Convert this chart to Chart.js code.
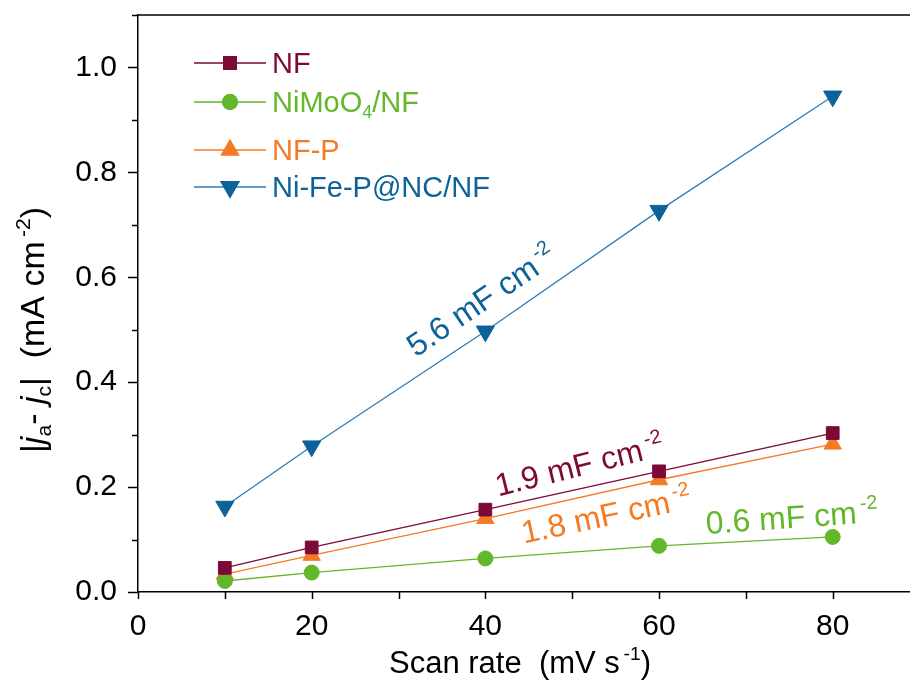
<!DOCTYPE html>
<html>
<head>
<meta charset="utf-8">
<script src="https://cdn.jsdelivr.net/npm/chart.js@4.4.0/dist/chart.umd.min.js"></script>
<style>
  html, body { margin: 0; padding: 0; background: #fff; }
  canvas { display: block; }
</style>
</head>
<body>
<canvas id="chart" width="910" height="680"></canvas>
<script>
// data
const scanRate = [10, 20, 40, 60, 80];
const nf = [0.046, 0.085, 0.157, 0.230, 0.303];
const nimoo4 = [0.021, 0.037, 0.064, 0.088, 0.105];
const nfp = [0.034, 0.070, 0.140, 0.214, 0.282];
const nifep = [0.163, 0.278, 0.497, 0.727, 0.945];

const xTicks = [0, 20, 40, 60, 80];
const yTicks = [0.0, 0.2, 0.4, 0.6, 0.8, 1.0];

const FONT = '"Liberation Sans", Arial, sans-serif';
const C_NF = '#7d0a36';
const C_NIMO = '#62b72a';
const C_NFP = '#f47a24';
const C_NIFE = '#0d6399';
const C_NIFE_LINE = '#2f7db6';

// series definition (legend + datasets)
const series = [
    { label: 'NF', parts: [{ t: 'NF' }], data: nf, color: C_NF, line: C_NF, style: 'rect', r: 9, rot: 0 },
    { label: 'NiMoO4/NF', parts: [{ t: 'NiMoO' }, { t: '4', sub: true }, { t: '/NF' }], data: nimoo4, color: C_NIMO, line: C_NIMO, style: 'circle', r: 7.5, rot: 0 },
    { label: 'NF-P', parts: [{ t: 'NF-P' }], data: nfp, color: C_NFP, line: C_NFP, style: 'triangle', r: 10, rot: 0 },
    { label: 'Ni-Fe-P@NC/NF', parts: [{ t: 'Ni-Fe-P@NC/NF' }], data: nifep, color: C_NIFE, line: C_NIFE_LINE, style: 'triangle', r: 10.5, rot: 180 }
];

// slope labels, positioned in data units
const notes = [
    { x: 39.5, y: 0.557, rot: -34, color: C_NIFE, parts: [{ t: '5.6 mF cm' }, { t: '-2', sup: true }] },
    { x: 50.8, y: 0.243, rot: -14, color: C_NF, parts: [{ t: '1.9 mF cm' }, { t: '-2', sup: true }] },
    { x: 53.9, y: 0.148, rot: -12, color: C_NFP, parts: [{ t: '1.8 mF cm' }, { t: '-2', sup: true }] },
    { x: 75.3, y: 0.144, rot: -4, color: C_NIMO, parts: [{ t: '0.6 mF cm' }, { t: '-2', sup: true }] }
];

const xTitle = [{ t: 'Scan rate  (mV s' }, { t: '-1', sup: true }, { t: ')' }];
const yTitle = [{ t: '|' }, { t: 'j', it: true }, { t: 'a', sub: true }, { t: '- ' }, { t: 'j', it: true }, { t: 'c', sub: true }, { t: '|  (mA cm' }, { t: '-2', sup: true }, { t: ')' }];

function partFont(p, size) {
    const s = (p.sub || p.sup) ? size * 0.62 : size;
    return (p.it ? 'italic ' : '') + s + 'px ' + FONT;
}

function partWidth(ctx, p, size) {
    ctx.font = partFont(p, size);
    return ctx.measureText(p.t).width + (p.sup ? size * 0.12 : 0);
}

// draws text with sub/superscripts, centred at (x, y), rotated by deg
function drawRich(ctx, parts, x, y, size, color, deg, align) {
    ctx.save();
    ctx.translate(x, y);
    ctx.rotate(deg * Math.PI / 180);
    ctx.fillStyle = color;
    ctx.textBaseline = 'alphabetic';
    ctx.textAlign = 'left';
    let w = 0;
    parts.forEach(p => { w += partWidth(ctx, p, size); });
    let cx = align === 'left' ? 0 : -w / 2;
    const base = size * 0.36;
    parts.forEach(p => {
        ctx.font = partFont(p, size);
        let dy = 0;
        if (p.sup) { dy = -size * 0.42; cx += size * 0.12; }
        if (p.sub) dy = size * 0.2;
        ctx.fillText(p.t, cx, base + dy);
        cx += ctx.measureText(p.t).width;
    });
    ctx.restore();
}

const decorPlugin = {
    id: 'decor',
    afterDraw(chart) {
        const ctx = chart.ctx;
        const xs = chart.scales.x, ys = chart.scales.y;
        const area = chart.chartArea;
        ctx.save();
        ctx.strokeStyle = '#000';
        ctx.lineWidth = 1.5;
        // top frame line
        ctx.beginPath();
        ctx.moveTo(area.left - 1, area.top);
        ctx.lineTo(area.right, area.top);
        ctx.stroke();
        // y ticks: major and minor
        for (let v = 0; v <= 1.1001; v += 0.1) {
            const py = Math.round(ys.getPixelForValue(v)) + 0.5;
            const major = Math.round(v * 10) % 2 === 0;
            ctx.beginPath();
            ctx.moveTo(area.left, py);
            ctx.lineTo(area.left - (major ? 10 : 6), py);
            ctx.stroke();
        }
        // x ticks
        for (let v = 0; v <= 80; v += 10) {
            const px = Math.round(xs.getPixelForValue(v)) + 0.5;
            ctx.beginPath();
            ctx.moveTo(px, area.bottom);
            ctx.lineTo(px, area.bottom + 7);
            ctx.stroke();
        }
        ctx.restore();

        // legend
        const rows = [63, 102, 150, 187];
        series.forEach((s, i) => {
            const y = rows[i];
            ctx.save();
            ctx.strokeStyle = s.line;
            ctx.lineWidth = 1.3;
            ctx.beginPath();
            ctx.moveTo(194, y);
            ctx.lineTo(266, y);
            ctx.stroke();
            ctx.fillStyle = s.color;
            ctx.strokeStyle = s.color;
            Chart.helpers.drawPoint(ctx, { pointStyle: s.style, rotation: s.rot, radius: s.r, borderWidth: 1 }, 230, y);
            ctx.restore();
            drawRich(ctx, s.parts, 272, y, 29, s.color, 0, 'left');
        });

        // axis titles
        drawRich(ctx, xTitle, 520, 662, 31, '#000', 0);
        drawRich(ctx, yTitle, 32, 330, 34, '#000', -90);

        // slope notes
        notes.forEach(n => {
            drawRich(ctx, n.parts, xs.getPixelForValue(n.x), ys.getPixelForValue(n.y), 32, n.color, n.rot);
        });
    }
};

const ctx = document.getElementById('chart').getContext('2d');
new Chart(ctx, {
    type: 'line',
    data: {
        datasets: series.map(s => ({
            label: s.label,
            data: scanRate.map((x, i) => ({ x, y: s.data[i] })),
            borderColor: s.line,
            backgroundColor: s.color,
            pointBorderColor: s.color,
            pointBackgroundColor: s.color,
            pointStyle: s.style,
            pointRotation: s.rot,
            pointRadius: s.r,
            pointBorderWidth: 1,
            borderWidth: 1.3,
            tension: 0,
            fill: false
        }))
    },
    options: {
        responsive: false,
        animation: false,
        devicePixelRatio: 1,
        layout: { autoPadding: false, padding: { top: 15, right: 0, left: 0, bottom: 0 } },
        plugins: {
            legend: { display: false },
            tooltip: { enabled: false }
        },
        scales: {
            x: {
                type: 'linear',
                min: 0,
                max: 88.9,
                grid: { display: false },
                border: { display: true, color: '#000', width: 1.5 },
                ticks: {
                    stepSize: 10,
                    includeBounds: false,
                    autoSkip: false,
                    maxRotation: 0,
                    padding: 9,
                    color: '#000',
                    font: { family: FONT, size: 30 },
                    callback: v => xTicks.includes(v) ? String(v) : ''
                },
                afterFit: s => {
                    s.height = 88;
                    s.paddingLeft = 0;
                    s.paddingRight = 0;
                }
            },
            y: {
                min: 0,
                max: 1.1,
                grid: { display: false },
                border: { display: true, color: '#000', width: 1.5 },
                ticks: {
                    stepSize: 0.1,
                    includeBounds: false,
                    autoSkip: false,
                    padding: 13,
                    color: '#000',
                    font: { family: FONT, size: 30 },
                    callback: v => {
                        const r = Math.round(v * 10) / 10;
                        return yTicks.some(t => Math.abs(t - r) < 1e-9) ? r.toFixed(1) : '';
                    }
                },
                afterFit: s => {
                    s.width = 138;
                    s.paddingTop = 0;
                    s.paddingBottom = 0;
                }
            }
        }
    },
    plugins: [decorPlugin]
});
</script>
</body>
</html>
